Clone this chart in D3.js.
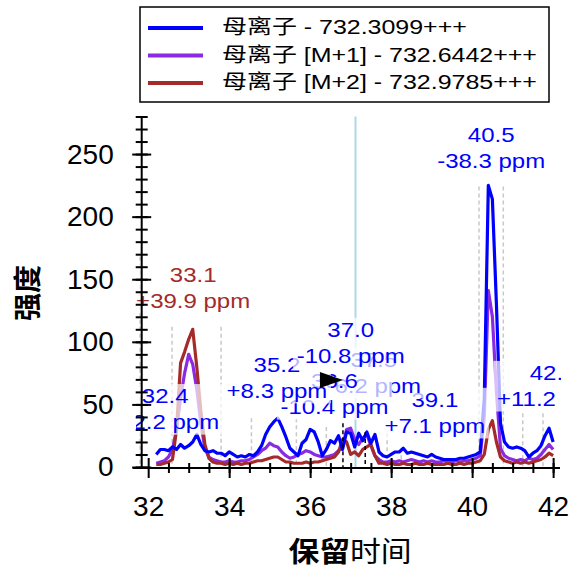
<!DOCTYPE html>
<html>
<head>
<meta charset="utf-8">
<script src="https://cdn.jsdelivr.net/npm/d3@7"></script>
<style>
body { margin: 0; background: #fff; }
text { font-family: "Liberation Sans", Arial, "Noto Sans CJK SC", sans-serif; }
</style>
</head>
<body>
<div id="chart"></div>
<script>
var svgWidth = 571;
var svgHeight = 569;

// retention time grid, 32.2 .. 42.0 every 0.1 min
var times = d3.range(322, 421).map(d => d / 10);

var parentIon = [
  10, 14, 14, 13, 16, 14, 18, 15, 17, 20,
  26, 18, 13, 12, 13, 11, 11, 9, 12, 10,
  8, 9, 8, 10, 9, 12, 17, 26, 32, 36,
  39, 32, 24, 15, 12, 9, 19, 22, 30, 28,
  20, 9, 14, 21, 19, 25, 14, 28, 27, 16,
  27, 21, 28, 19, 26, 12, 9, 8, 10, 12,
  12, 15, 11, 12, 11, 10, 9, 8, 10, 8,
  7, 6, 6, 6, 6, 7, 7, 8, 9, 10,
  12, 55, 225, 214, 130, 35, 20, 16, 15, 16,
  15, 13, 8, 11, 13, 17, 25, 31, 20
];
var parentM1 = [
  3, 4, 5, 8, 14, 30, 55, 75, 90, 82,
  62, 35, 15, 8, 6, 5, 4, 4, 5, 4,
  4, 5, 5, 6, 8, 10, 13, 15, 19, 17,
  16, 12, 9, 7, 8, 10, 11, 13, 12, 10,
  9, 8, 8, 9, 10, 13, 16, 30, 31, 22,
  18, 23, 26, 17, 9, 6, 4, 4, 5, 4,
  5, 4, 5, 6, 5, 4, 5, 4, 5, 4,
  4, 5, 4, 4, 5, 4, 5, 5, 6, 7,
  9, 40, 141, 120, 60, 15, 9, 7, 6, 5,
  6, 5, 7, 6, 7, 10, 14, 18, 14
];
var parentM2 = [
  2, 2, 3, 4, 6, 30, 83, 92, 102, 110,
  80, 45, 18, 7, 4, 3, 3, 2, 3, 2,
  3, 2, 3, 3, 4, 5, 5, 6, 7, 8,
  8, 6, 4, 4, 3, 3, 3, 4, 3, 4,
  4, 5, 6, 7, 8, 12, 22, 20, 10, 12,
  9, 14, 16, 18, 9, 3, 3, 2, 3, 2,
  2, 3, 2, 2, 3, 2, 2, 3, 2, 2,
  2, 2, 3, 2, 2, 3, 2, 3, 3, 4,
  5, 10, 30, 37, 20, 8, 5, 4, 3, 4,
  3, 4, 3, 4, 5, 6, 8, 11, 9
];

var seriesNames = ["母离子 - 732.3099+++", "母离子 [M+1] - 732.6442+++", "母离子 [M+2] - 732.9785+++"];
var seriesColors = ["#0000ff", "#8a2be2", "#a52a2a"];

// peak annotations
var labelTimes = [33.11, 32.42, 39.08, 37.57, 36.6, 35.18, 37.0, 40.47, 42.0];
var labelLevels = [148, 51, 48, 80, 63, 76, 104, 260, 69.5];
var labelRt = ["33.1", "32.4", "39.1", "37.5", "36.6", "35.2", "37.0", "40.5", "42.0"];
var labelPpm = ["+39.9 ppm", "-12.2 ppm", "+7.1 ppm", "-6.2 ppm", "-10.4 ppm", "+8.3 ppm", "-10.8 ppm", "-38.3 ppm", "+11.2 ppm"];
var labelColors = ["#a52a2a", "#0000ff", "#0000ff", "#0000ff", "#0000ff", "#0000ff", "#0000ff", "#0000ff", "#0000ff"];

// integration boundaries [time, height]
var boundaries = [[31.8, 168], [32.59, 112], [33.8, 112], [34.55, 39], [35.66, 39], [36.4, 32],
  [37.9, 27], [38.25, 15], [40.17, 224], [40.77, 224], [41.25, 43], [41.75, 43]];
var selectedBounds = [[36.81, 35], [37.36, 28]];
var selectedTime = 37.12;
var markerPoint = [36.81, 69.5];

var xTicks = [32, 34, 36, 38, 40, 42];
var yTicks = [0, 50, 100, 150, 200, 250];

var svg = d3.select("#chart")
  .append("svg")
  .attr("width", svgWidth)
  .attr("height", svgHeight);

var x = d3.scaleLinear().domain([31.84, 42.17]).range([141.7, 560]);
var y = d3.scaleLinear().domain([0, 280]).range([467, 116.5]);

svg.append("clipPath").attr("id", "plotClip")
  .append("rect").attr("x", 136).attr("y", 0).attr("width", 425).attr("height", 470);

var plot = svg.append("g").attr("clip-path", "url(#plotClip)");

// boundary markers
plot.selectAll(".bound")
  .data(boundaries)
  .enter()
  .append("line")
  .attr("x1", d => x(d[0])).attr("x2", d => x(d[0]))
  .attr("y1", d => y(d[1])).attr("y2", y(0))
  .attr("stroke", "#c8c8c8")
  .attr("stroke-width", 1.5)
  .attr("stroke-dasharray", "4,3");

plot.append("line")
  .attr("x1", x(selectedTime)).attr("x2", x(selectedTime))
  .attr("y1", y(280)).attr("y2", y(0))
  .attr("stroke", "#add8e6")
  .attr("stroke-width", 2);

var line = d3.line()
  .x((d, i) => x(times[i]))
  .y(d => y(d));

[[parentM1, 1], [parentM2, 2], [parentIon, 0]].forEach(function(s) {
  plot.append("path")
    .datum(s[0])
    .attr("d", line)
    .attr("fill", "none")
    .attr("stroke", seriesColors[s[1]])
    .attr("stroke-width", 3.2)
    .attr("stroke-linejoin", "round");
});

plot.selectAll(".sel")
  .data(selectedBounds)
  .enter()
  .append("line")
  .attr("x1", d => x(d[0])).attr("x2", d => x(d[0]))
  .attr("y1", d => y(d[1])).attr("y2", y(0))
  .attr("stroke", "#000")
  .attr("stroke-width", 1.5)
  .attr("stroke-dasharray", "4,3");

// peak labels with translucent white boxes
labelTimes.forEach(function(t, i) {
  var g = plot.append("g")
    .attr("transform", `translate(${x(t)}, ${y(labelLevels[i])}) scale(1.2, 1)`);
  var bg = g.append("rect");
  g.append("text")
    .attr("text-anchor", "middle")
    .attr("font-size", 20)
    .attr("fill", labelColors[i])
    .text(labelRt[i]);
  g.append("text")
    .attr("text-anchor", "middle")
    .attr("y", 26)
    .attr("font-size", 20)
    .attr("fill", labelColors[i])
    .text(labelPpm[i]);
  var bb = g.node().getBBox();
  bg.attr("x", bb.x - 3)
    .attr("y", bb.y - 1)
    .attr("width", bb.width + 6)
    .attr("height", bb.height + 2)
    .attr("fill", "#fff")
    .attr("opacity", 0.7);
});

plot.append("path")
  .attr("transform", `translate(${x(markerPoint[0])}, ${y(markerPoint[1])})`)
  .attr("d", "M0,0L-23,-8L-23,8Z")
  .attr("fill", "#000");

// axes
var xAxis = svg.append("g")
  .attr("transform", `translate(0, ${y(0) + 1})`)
  .call(d3.axisBottom(x).tickValues(xTicks).tickSize(10).tickFormat(d3.format("d")));
xAxis.select(".domain").remove();
xAxis.selectAll(".tick line").attr("y1", -10).attr("y2", 10).attr("stroke-width", 2);
xAxis.selectAll(".tick text")
  .attr("y", 28)
  .attr("font-size", 28)
  .attr("font-family", "Liberation Sans, Arial, sans-serif");

var xMinor = svg.append("g")
  .attr("transform", `translate(0, ${y(0) + 1})`)
  .call(d3.axisBottom(x).tickValues(d3.range(65, 85).map(d => d / 2)).tickSize(5).tickFormat(""));
xMinor.select(".domain").remove();
xMinor.selectAll(".tick line").attr("y1", -5).attr("y2", 5).attr("stroke-width", 2);

svg.append("line")
  .attr("x1", x(31.62)).attr("x2", x(42.17))
  .attr("y1", y(0) + 1).attr("y2", y(0) + 1)
  .attr("stroke", "#000").attr("stroke-width", 2);

var yAxis = svg.append("g")
  .attr("transform", `translate(${x(31.84)}, 0)`)
  .call(d3.axisLeft(y).tickValues(yTicks).tickSize(10).tickPadding(18));
yAxis.select(".domain").remove();
yAxis.selectAll(".tick line").attr("x1", -9.5).attr("x2", 9.5).attr("stroke-width", 2);
yAxis.selectAll(".tick text")
  .attr("font-size", 28)
  .attr("font-family", "Liberation Sans, Arial, sans-serif");

var yMinor = svg.append("g")
  .attr("transform", `translate(${x(31.84)}, 0)`)
  .call(d3.axisLeft(y).tickValues(d3.range(0, 290, 10)).tickSize(6).tickFormat(""));
yMinor.select(".domain").remove();
yMinor.selectAll(".tick line").attr("x1", -6).attr("x2", 6).attr("stroke-width", 2);

svg.append("line")
  .attr("x1", x(31.84)).attr("x2", x(31.84))
  .attr("y1", y(280)).attr("y2", y(0) + 1)
  .attr("stroke", "#000").attr("stroke-width", 2);

// axis titles
svg.append("text")
  .attr("transform", "translate(28, 293) rotate(-90)")
  .attr("text-anchor", "middle")
  .attr("dominant-baseline", "central")
  .attr("font-size", 28)
  .attr("font-weight", "bold")
  .attr("font-family", "Noto Sans CJK SC, sans-serif")
  .text("强度");

var xTitle = svg.append("text")
  .attr("transform", "translate(350, 562) scale(1.1, 1)")
  .attr("text-anchor", "middle")
  .attr("font-size", 28)
  .attr("font-family", "Noto Sans CJK SC, sans-serif");
xTitle.append("tspan").attr("font-weight", "bold").text("保留");
xTitle.append("tspan").text("时间");

// legend
var legend = svg.append("g");
legend.append("rect")
  .attr("x", 140).attr("y", 7).attr("width", 409).attr("height", 95)
  .attr("fill", "#fff").attr("stroke", "#000").attr("stroke-width", 1.5);

seriesNames.forEach(function(name, i) {
  legend.append("line")
    .attr("x1", 148).attr("x2", 203)
    .attr("y1", 28 + i * 27.5).attr("y2", 28 + i * 27.5)
    .attr("stroke", seriesColors[i]).attr("stroke-width", 4);
  legend.append("text")
    .attr("transform", `translate(222, ${34 + i * 27.5}) scale(1.2, 1)`)
    .attr("font-size", 20.8)
    .attr("fill", "#000")
    .text(name);
});
</script>
</body>
</html>
